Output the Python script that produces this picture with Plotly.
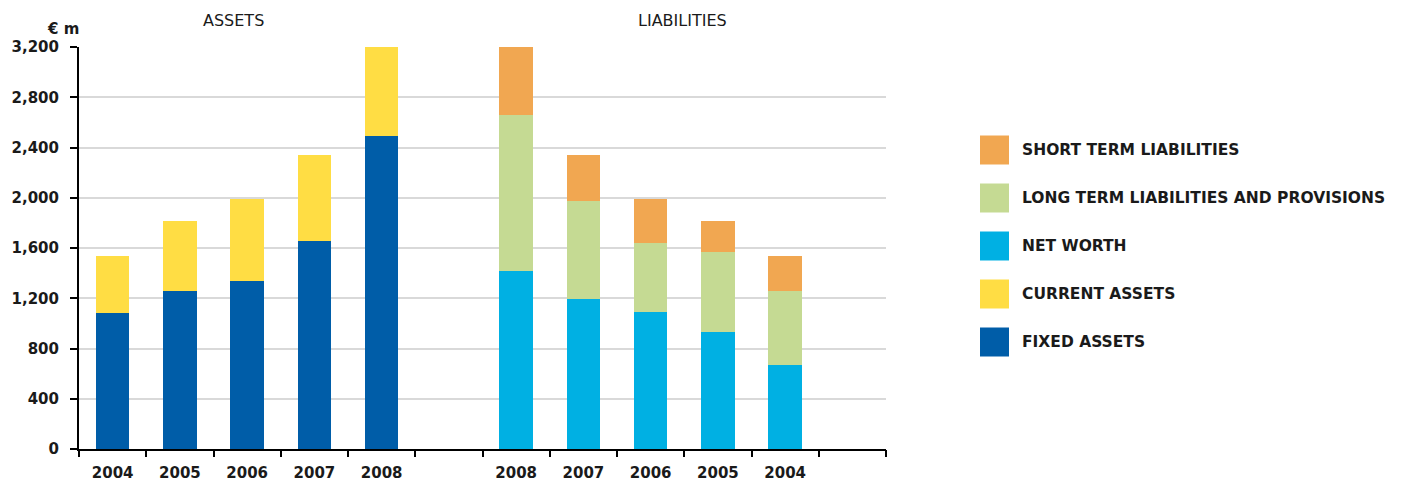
import plotly.graph_objects as go

# ---- data (EUR million) ----
asset_years = ["2004", "2005", "2006", "2007", "2008"]
fixed_assets = [1083, 1258, 1338, 1656, 2492]
current_assets = [454, 557, 652, 685, 708]

liab_years = ["2008", "2007", "2006", "2005", "2004"]
net_worth = [1417, 1194, 1091, 931, 669]
long_term = [1242, 781, 549, 637, 589]
short_term = [541, 366, 350, 247, 279]

y_ticks = [0, 400, 800, 1200, 1600, 2000, 2400, 2800, 3200]

C_FIXED = "#005DA8"
C_CURRENT = "#FFDD44"
C_NET = "#00B0E3"
C_LONG = "#C5DA93"
C_SHORT = "#F1A751"

FONT = "DejaVu Sans"
TXT = "#1a1a1a"
TICKFONT = dict(family=FONT, size=15, color=TXT, weight="bold")

x_assets = list(range(len(asset_years)))
x_liab = [6 + i for i in range(len(liab_years))]

fig = go.Figure()
common = dict(width=0.5, showlegend=False, marker_line_width=0)
fig.add_bar(x=x_assets, y=fixed_assets, marker_color=C_FIXED, name="FIXED ASSETS", **common)
fig.add_bar(x=x_assets, y=current_assets, marker_color=C_CURRENT, name="CURRENT ASSETS", **common)
fig.add_bar(x=x_liab, y=net_worth, marker_color=C_NET, name="NET WORTH", **common)
fig.add_bar(x=x_liab, y=long_term, marker_color=C_LONG, name="LONG TERM LIABILITIES AND PROVISIONS", **common)
fig.add_bar(x=x_liab, y=short_term, marker_color=C_SHORT, name="SHORT TERM LIABILITIES", **common)

# helper trace so the boundary-tick axis is drawn
fig.add_scatter(x=[-0.5, 11.5], y=[0, 0], xaxis="x2", mode="markers",
                marker=dict(opacity=0), showlegend=False, hoverinfo="skip")

# page body has an 8px margin, so the figure is offset by (8, 8) on screen
fig.update_layout(
    barmode="stack",
    width=1406, height=482,
    margin=dict(l=71, r=528, t=39, b=41, autoexpand=False),
    paper_bgcolor="white", plot_bgcolor="white",
    font=dict(family=FONT, color=TXT, size=15),
    xaxis=dict(
        range=[-0.5, 11.5],
        tickvals=x_assets + x_liab,
        ticktext=asset_years + liab_years,
        ticks="outside", ticklen=9, tickcolor="rgba(0,0,0,0)",
        showgrid=False, zeroline=False, automargin=False,
        showline=True, linecolor="black", linewidth=2,
        tickfont=TICKFONT,
    ),
    xaxis2=dict(
        overlaying="x", range=[-0.5, 11.5],
        tickvals=[i - 0.5 for i in range(13)],
        ticktext=[""] * 13,
        ticks="outside", ticklen=7, tickwidth=2, tickcolor="black",
        showgrid=False, zeroline=False, showline=False, automargin=False,
        anchor="y", side="bottom",
    ),
    yaxis=dict(
        range=[0, 3200],
        tickvals=y_ticks,
        tickformat=",d",
        ticks="outside", ticklen=7, tickwidth=2, tickcolor="black",
        ticklabelstandoff=8,
        showline=True, linecolor="black", linewidth=2,
        showgrid=True, gridcolor="#d9d9d9", gridwidth=2,
        zeroline=False, automargin=False,
        tickfont=TICKFONT,
    ),
)

# titles (positions in plot-area fractions; plot area spans 807 x 402 px)
PW, PH = 807, 402
fig.add_annotation(text="ASSETS", x=(233 - 79) / PW, y=1.0, xref="paper", yref="paper",
                   xanchor="center", yanchor="middle", yshift=27, showarrow=False,
                   font=dict(size=16, family=FONT, color=TXT))
fig.add_annotation(text="LIABILITIES", x=(682 - 79) / PW, y=1.0, xref="paper", yref="paper",
                   xanchor="center", yanchor="middle", yshift=27, showarrow=False,
                   font=dict(size=16, family=FONT, color=TXT))
fig.add_annotation(text="€ m", x=0, y=1.0, xref="paper", yref="paper",
                   xanchor="center", yanchor="middle", xshift=-16, yshift=18, showarrow=False,
                   font=dict(size=15, family=FONT, color=TXT, weight="bold"))

# manual legend
legend_items = [("SHORT TERM LIABILITIES", C_SHORT),
                ("LONG TERM LIABILITIES AND PROVISIONS", C_LONG),
                ("NET WORTH", C_NET),
                ("CURRENT ASSETS", C_CURRENT),
                ("FIXED ASSETS", C_FIXED)]
for i, (label, col) in enumerate(legend_items):
    cy = 150 + i * 48
    fig.add_shape(type="rect", xref="paper", yref="paper",
                  x0=(980 - 79) / PW, x1=(1009 - 79) / PW,
                  y0=(449 - (cy + 14.5)) / PH, y1=(449 - (cy - 14.5)) / PH,
                  fillcolor=col, line_width=0)
    fig.add_annotation(text=label, xref="paper", yref="paper",
                       x=(1020 - 79) / PW, y=(449 - cy) / PH,
                       xanchor="left", yanchor="middle", showarrow=False,
                       font=dict(size=15.5, family=FONT, color=TXT, weight="bold"))

fig.write_html("out.html")
